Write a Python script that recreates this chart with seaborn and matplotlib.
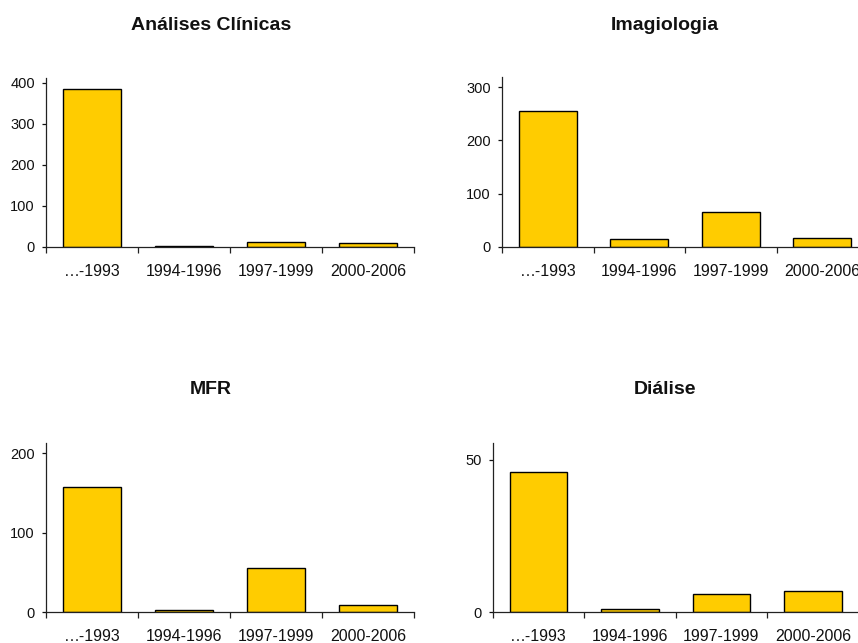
import matplotlib
matplotlib.use("Agg")
import matplotlib.pyplot as plt
import seaborn as sns
from matplotlib.ticker import FixedLocator

periods = ["…-1993", "1994-1996", "1997-1999", "2000-2006"]

analises = [385, 2, 13, 10]
imagiologia = [256, 15, 66, 17]
mfr = [157, 2, 55, 9]
dialise = [46, 1, 6, 7]

titles = ["Análises Clínicas", "Imagiologia", "MFR", "Diálise"]
series = [analises, imagiologia, mfr, dialise]
ylims = [412, 319, 213, 55.6]
yticks = [[0, 100, 200, 300, 400], [0, 100, 200, 300], [0, 100, 200], [0, 50]]

sns.set_style("white")
plt.rcParams["font.family"] = ["Liberation Sans", "DejaVu Sans"]

fig = plt.figure(figsize=(8.58, 6.43), dpi=100)
boxes = [
    [0.0536, 0.6159, 0.4289, 0.2628],
    [0.5851, 0.6159, 0.4266, 0.2644],
    [0.0536, 0.0482, 0.4289, 0.2633],
    [0.5742, 0.0482, 0.4266, 0.2633],
]
# title centres in pixels (x, y from top)
title_pos = [(211, 25), (665, 25), (211, 390), (665, 390)]

for box, title, vals, ymax, yt, tp in zip(boxes, titles, series, ylims, yticks, title_pos):
    ax = fig.add_axes(box)
    sns.barplot(x=periods, y=vals, color="#FFCC00", saturation=1,
                edgecolor="black", linewidth=1, width=0.63, ax=ax)
    ax.set_xlim(-0.5, 3.5)
    ax.set_ylim(0, ymax)
    ax.set_yticks(yt)
    ax.set_xlabel("")
    ax.set_ylabel("")
    for s in ["top", "right"]:
        ax.spines[s].set_visible(False)
    for s in ["left", "bottom"]:
        ax.spines[s].set_color("#222222")
        ax.spines[s].set_linewidth(0.9)
    ax.xaxis.set_minor_locator(FixedLocator([-0.5, 0.5, 1.5, 2.5, 3.5]))
    ax.tick_params(axis="x", which="major", length=0, pad=12, labelsize=11.5, colors="#111111")
    ax.tick_params(axis="x", which="minor", length=4, width=0.9, direction="out", color="#222222", bottom=True)
    ax.tick_params(axis="y", length=3, width=0.9, direction="out", left=True, pad=5,
                   labelsize=10.5, colors="#111111")
    fig.text(tp[0] / 858, 1 - tp[1] / 643, title, fontsize=14, fontweight="bold",
             ha="center", va="center", color="#111111")

fig.savefig("out.png", dpi=100)
